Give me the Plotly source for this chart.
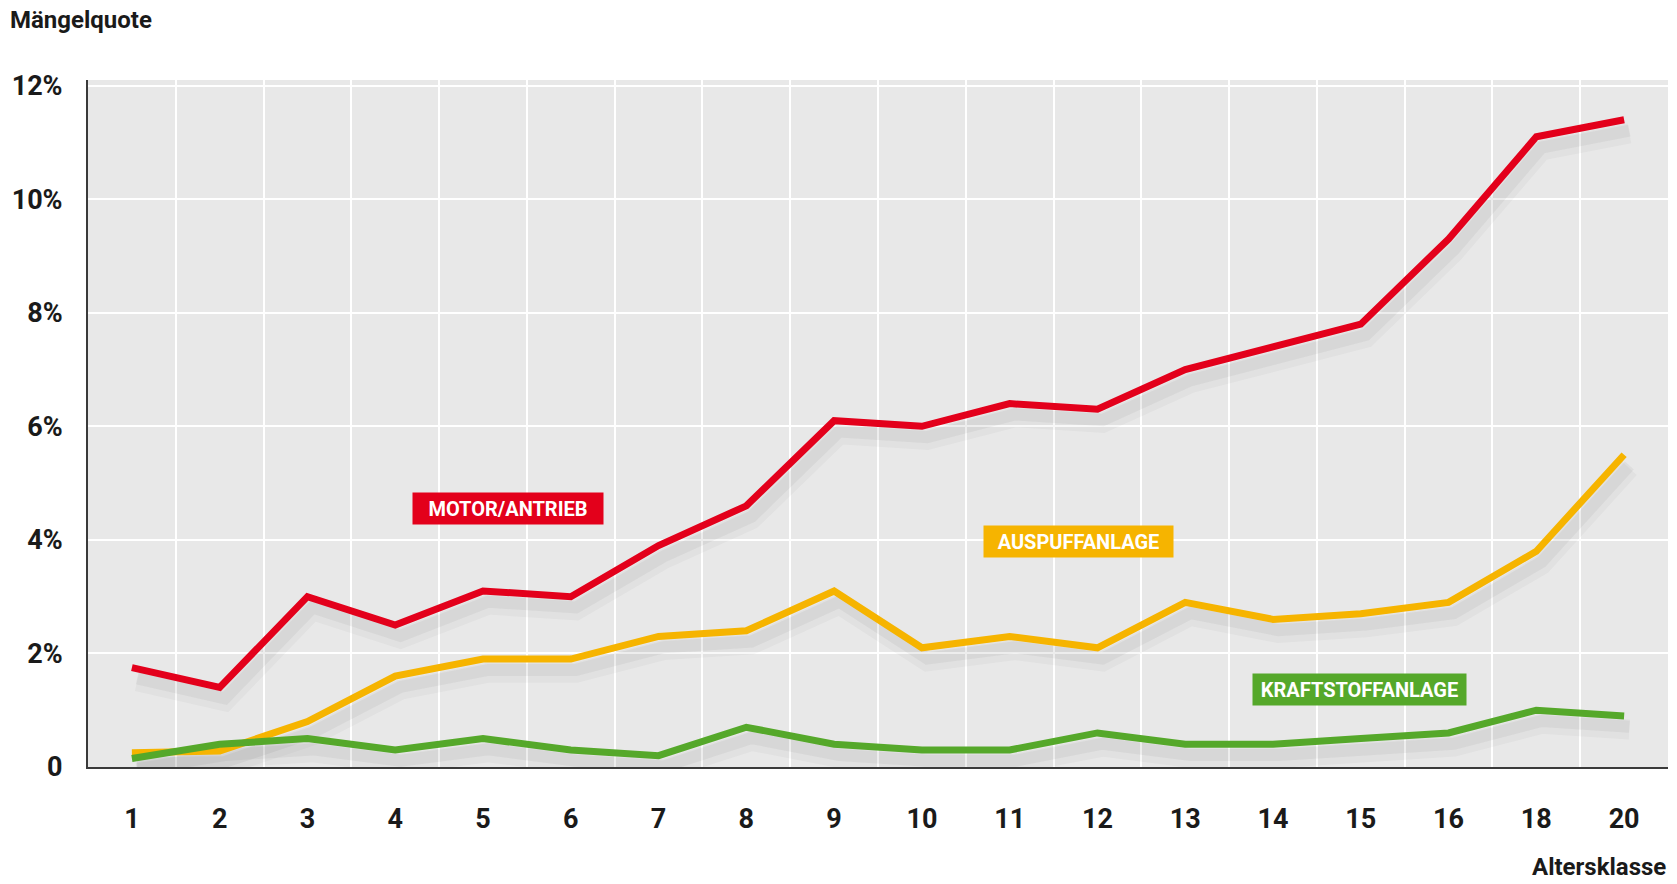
import plotly.graph_objects as go

# ---- data ----
altersklassen = ["1", "2", "3", "4", "5", "6", "7", "8", "9", "10", "11", "12", "13", "14", "15", "16", "18", "20"]
motor_antrieb = [1.75, 1.4, 3.0, 2.5, 3.1, 3.0, 3.9, 4.6, 6.1, 6.0, 6.4, 6.3, 7.0, 7.4, 7.8, 9.3, 11.1, 11.4]
auspuffanlage = [0.25, 0.28, 0.8, 1.6, 1.9, 1.9, 2.3, 2.4, 3.1, 2.1, 2.3, 2.1, 2.9, 2.6, 2.7, 2.9, 3.8, 5.5]
kraftstoffanlage = [0.15, 0.4, 0.5, 0.3, 0.5, 0.3, 0.2, 0.7, 0.4, 0.3, 0.3, 0.6, 0.4, 0.4, 0.5, 0.6, 1.0, 0.9]
y_tickvals = [0, 2, 4, 6, 8, 10, 12]
y_ticktext = ["0", "2%", "4%", "6%", "8%", "10%", "12%"]

# name, values, colour, label centre (x index, y %), label box width px
series = [
    ("MOTOR/ANTRIEB", motor_antrieb, "#e3001b", 4.29, 4.56, 190),
    ("AUSPUFFANLAGE", auspuffanlage, "#f6b400", 10.78, 3.97, 189),
    ("KRAFTSTOFFANLAGE", kraftstoffanlage, "#55a82a", 13.99, 1.37, 213),
]

FONT = "Roboto, Liberation Sans, sans-serif"
xs = list(range(len(altersklassen)))

W, H = 1677, 884
ML, MR, MT, MB = 88, 9, 80, 117
PW, PH = W - ML - MR, H - MT - MB

fig = go.Figure()

# soft shadows under lines
for name, vals, col, _, _, _ in series:
    for w, op, dy in [(20, 0.035, 0.24), (12, 0.055, 0.19)]:
        fig.add_trace(go.Scatter(
            x=[x + 0.06 for x in xs], y=[v - dy for v in vals], mode="lines",
            line=dict(color=f"rgba(60,60,60,{op})", width=w), hoverinfo="skip",
            showlegend=False))

for name, vals, col, _, _, _ in series:
    fig.add_trace(go.Scatter(
        x=xs, y=vals, mode="lines", name=name,
        line=dict(color=col, width=7), showlegend=False))

for name, vals, col, lx, ly, bw in series:
    fig.add_annotation(
        x=lx, y=ly, xref="x", yref="y", text=name, showarrow=False,
        font=dict(family=FONT, size=20, color="white", weight="bold"),
        bgcolor=col, borderpad=2, width=bw - 4, height=27, align="center", valign="middle")

fig.add_annotation(x=(8 - ML) / PW, y=1 + (MT - 20) / PH, xref="paper", yref="paper",
                   xanchor="left", yanchor="middle",
                   text="Mängelquote", showarrow=False,
                   font=dict(family=FONT, size=24, color="#1a1a1a", weight="bold"))
fig.add_annotation(x=1, y=-(867 - (H - MB)) / PH, xref="paper", yref="paper",
                   xanchor="right", yanchor="middle",
                   text="Altersklasse", showarrow=False,
                   font=dict(family=FONT, size=24, color="#1a1a1a", weight="bold"))

fig.update_layout(
    width=W, height=H,
    margin=dict(l=ML, r=MR, t=MT, b=MB, autoexpand=False),
    paper_bgcolor="white", plot_bgcolor="#e8e8e8",
    font=dict(family=FONT, size=26, color="#1a1a1a"),
    showlegend=False,
)
fig.update_xaxes(
    automargin=False,
    range=[-0.5, len(altersklassen) - 0.5],
    tickmode="array", tickvals=xs, ticktext=altersklassen,
    showgrid=False, zeroline=False,
    showline=True, linecolor="#3a3a3a", linewidth=2,
    ticks="", ticklabelstandoff=27,
    tickfont=dict(family=FONT, size=27, color="#1a1a1a", weight="bold"),
    minor=dict(tickmode="array", tickvals=[x + 0.5 for x in xs[:-1]],
               showgrid=True, gridcolor="white", gridwidth=2, ticks=""),
)
fig.update_yaxes(
    automargin=False,
    range=[0, 12.1],
    tickmode="array", tickvals=y_tickvals, ticktext=y_ticktext,
    showgrid=True, gridcolor="white", gridwidth=2, zeroline=False,
    showline=True, linecolor="#3a3a3a", linewidth=2,
    ticks="", ticklabelstandoff=18,
    tickfont=dict(family=FONT, size=27, color="#1a1a1a", weight="bold"),
)

fig.write_html("out.html", config={"displayModeBar": False},
               post_script="document.body.style.margin='0';")
